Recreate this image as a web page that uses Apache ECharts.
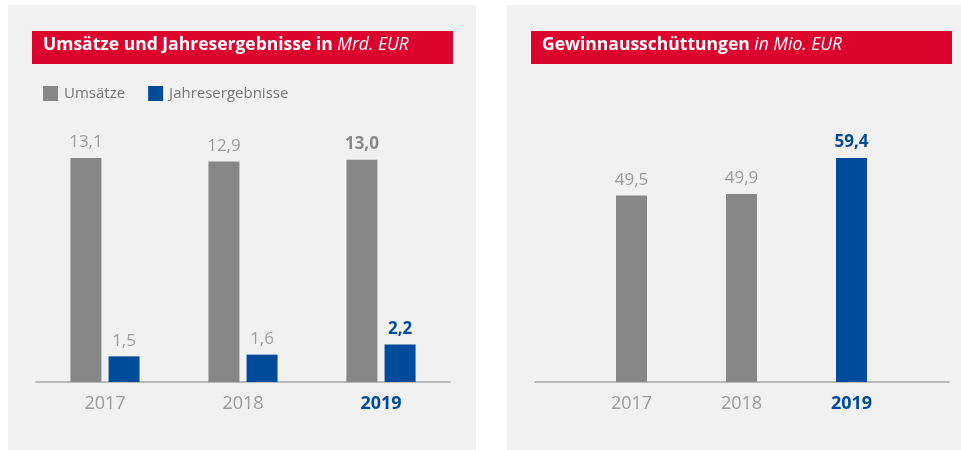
<!DOCTYPE html>
<html>
<head>
<meta charset="utf-8">
<script src="https://cdn.jsdelivr.net/npm/echarts@6/dist/echarts.min.js"></script>
<style>
  html, body { margin: 0; padding: 0; background: #fff; }
  #chart { width: 961px; height: 450px; }
</style>
</head>
<body>
<div id="chart"></div>
<script>
  // Daten
  var years = ['2017', '2018', '2019'];
  var umsaetze = [13.1, 12.9, 13.0];
  var jahresergebnisse = [1.5, 1.6, 2.2];
  var gewinnausschuettungen = [49.5, 49.9, 59.4];
  var highlightYear = '2019';

  var GRAY = '#878787';
  var BLUE = '#004b9a';
  var RED = '#dc042e';
  var FONT = 'Open Sans';

  function fmt(v) {
    return v.toFixed(1).replace('.', ',');
  }

  // Werte des hervorgehobenen Jahres fett
  function barData(values, color, hlColor) {
    return values.map(function (v, i) {
      var hl = years[i] === highlightYear;
      return {
        value: v,
        itemStyle: { color: hl && hlColor ? hlColor : color },
        label: hl ? { fontWeight: 'bold', color: hlColor || '#888' } : {}
      };
    });
  }

  var yearLabel = {
    fontFamily: FONT,
    fontSize: 18,
    margin: 13,
    formatter: function (v) {
      return v === highlightYear ? '{hl|' + v + '}' : '{n|' + v + '}';
    },
    rich: {
      n: { color: '#9a9a9a', fontSize: 18, fontFamily: FONT },
      hl: { color: BLUE, fontSize: 18, fontFamily: FONT, fontWeight: 'bold' }
    }
  };

  var valueLabel = {
    show: true,
    position: 'top',
    distance: 7,
    fontFamily: FONT,
    fontSize: 17,
    color: '#9d9d9d',
    formatter: function (p) { return fmt(p.value); }
  };

  var axisLine = { show: true, lineStyle: { color: '#a6a6a6', width: 1.5 } };

  var titleRich = {
    b: { fill: '#fff', fontSize: 17.5, fontWeight: 'bold', fontFamily: FONT },
    i: { fill: '#fff', fontSize: 17.5, fontStyle: 'italic', fontFamily: FONT }
  };

  var myChart = echarts.init(document.getElementById('chart'));
  var option = {
    animation: false,
    textStyle: { fontFamily: FONT },
    graphic: [
      { type: 'rect', shape: { x: 8, y: 5, width: 468, height: 450 }, style: { fill: '#f1f1f1' }, z: -10 },
      { type: 'rect', shape: { x: 507, y: 5, width: 460, height: 450 }, style: { fill: '#f1f1f1' }, z: -10 },
      { type: 'rect', shape: { x: 32, y: 31, width: 421, height: 33 }, style: { fill: RED }, z: -5 },
      { type: 'rect', shape: { x: 531, y: 31, width: 421, height: 33 }, style: { fill: RED }, z: -5 },
      {
        type: 'text', left: 43, top: 36,
        style: { text: '{b|Umsätze und Jahresergebnisse in }{i|Mrd. EUR}', rich: titleRich }
      },
      {
        type: 'text', left: 542, top: 36,
        style: { text: '{b|Gewinnausschüttungen }{i|in Mio. EUR}', rich: titleRich }
      }
    ],
    legend: {
      left: 43, top: 86,
      padding: 0,
      icon: 'rect',
      itemWidth: 15, itemHeight: 15, itemGap: 23,
      textStyle: { color: '#777', fontSize: 15, fontFamily: FONT, padding: [0, 0, 0, 1] },
      data: ['Umsätze', 'Jahresergebnisse']
    },
    grid: [
      { left: 36, right: 511, top: 142.6, bottom: 68 },
      { left: 576.5, right: 54.5, top: 144.5, bottom: 68 },
      { left: 535, right: 12, top: 144.5, bottom: 68 }
    ],
    xAxis: [
      { type: 'category', gridIndex: 0, data: years, axisLine: axisLine, axisTick: { show: false }, axisLabel: yearLabel },
      { type: 'category', gridIndex: 1, data: years, axisLine: { show: false }, axisTick: { show: false }, axisLabel: yearLabel },
      { type: 'category', gridIndex: 2, data: [], axisLine: axisLine, axisTick: { show: false }, axisLabel: { show: false } }
    ],
    yAxis: [
      { type: 'value', gridIndex: 0, min: 0, max: 14, show: false, splitLine: { show: false } },
      { type: 'value', gridIndex: 1, min: 0, max: 63, show: false, splitLine: { show: false } },
      { type: 'value', gridIndex: 2, min: 0, max: 1, show: false, splitLine: { show: false } }
    ],
    series: [
      {
        name: 'Umsätze', type: 'bar', xAxisIndex: 0, yAxisIndex: 0,
        barWidth: 31, barGap: '23%',
        itemStyle: { color: GRAY },
        label: valueLabel,
        data: barData(umsaetze, GRAY, null)
      },
      {
        name: 'Jahresergebnisse', type: 'bar', xAxisIndex: 0, yAxisIndex: 0,
        barWidth: 31, barGap: '23%',
        itemStyle: { color: BLUE },
        label: valueLabel,
        data: barData(jahresergebnisse, BLUE, BLUE)
      },
      {
        name: 'Gewinnausschüttungen', type: 'bar', xAxisIndex: 1, yAxisIndex: 1,
        barWidth: 31,
        itemStyle: { color: GRAY },
        label: valueLabel,
        data: barData(gewinnausschuettungen, GRAY, BLUE)
      }
    ]
  };
  myChart.setOption(option);
  window.addEventListener('resize', function () { myChart.resize(); });
</script>
</body>
</html>
